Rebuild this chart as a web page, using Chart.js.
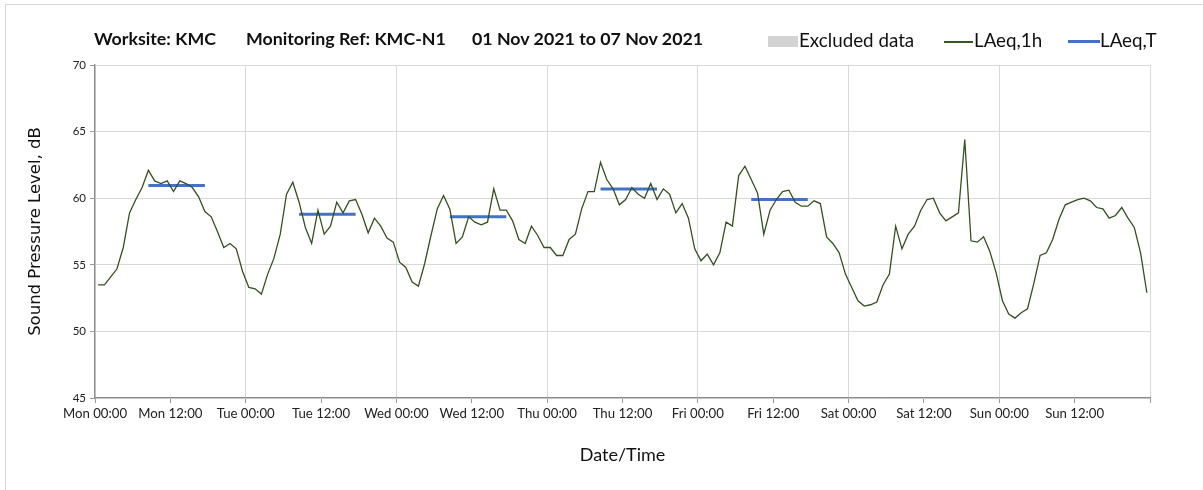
<!DOCTYPE html>
<html>
<head>
<meta charset="utf-8">
<script src="https://cdn.jsdelivr.net/npm/chart.js@4.4.0/dist/chart.umd.min.js"></script>
<style>
  body{margin:0;background:#fff;}
  #wrap{position:relative;width:1203px;height:490px;overflow:hidden;font-family:Lato,"Open Sans",sans-serif;}
  #frame{position:absolute;left:5px;top:4px;width:1300px;height:600px;border:1px solid #d9d9d9;}
  canvas{position:absolute;left:0;top:0;}
  .t{position:absolute;top:27px;font-weight:bold;font-size:17.8px;color:#111;white-space:pre;}
  .lg{position:absolute;top:28px;font-size:18.8px;color:#111;white-space:pre;}
  .sw{position:absolute;}
</style>
</head>
<body>
<div id="wrap">
  <div id="frame"></div>
  <canvas id="myChart" width="1203" height="490"></canvas>
  <div class="t" style="left:94px">Worksite: KMC</div>
  <div class="t" style="left:246px">Monitoring Ref: KMC-N1</div>
  <div class="t" style="left:472px">01 Nov 2021 to 07 Nov 2021</div>
  <div class="sw" style="left:768px;top:36px;width:30px;height:11px;background:#d3d3d3"></div>
  <div class="lg" style="left:799px">Excluded data</div>
  <div class="sw" style="left:944px;top:41px;width:29px;height:1.5px;background:#375623"></div>
  <div class="lg" style="left:974px">LAeq,1h</div>
  <div class="sw" style="left:1068px;top:40px;width:32px;height:3px;background:#4472C4"></div>
  <div class="lg" style="left:1100px">LAeq,T</div>
</div>
<script>
// hourly LAeq,1h, Mon 00:00 .. Sun 23:00
const laeq1h = [
  53.5,53.5,54.1,54.7,56.3,58.9,59.9,60.8,62.1,61.3,61.1,61.3,60.5,61.3,61.1,60.8,60.1,59.0,58.6,57.5,56.3,56.6,56.2,54.5,
  53.3,53.2,52.8,54.3,55.5,57.3,60.3,61.2,59.7,57.8,56.6,59.1,57.3,57.9,59.7,58.9,59.8,59.9,58.8,57.4,58.5,57.9,57.0,56.7,
  55.2,54.8,53.7,53.4,55.1,57.2,59.2,60.2,59.2,56.6,57.1,58.6,58.2,58.0,58.2,60.7,59.1,59.1,58.3,56.9,56.6,57.9,57.2,56.3,
  56.3,55.7,55.7,56.9,57.3,59.2,60.5,60.5,62.7,61.4,60.7,59.5,59.9,60.8,60.3,60.0,61.1,59.9,60.7,60.3,58.9,59.6,58.5,56.2,
  55.3,55.8,55.0,55.9,58.2,57.9,61.7,62.4,61.4,60.4,57.3,59.1,59.9,60.5,60.6,59.7,59.4,59.4,59.8,59.6,57.1,56.6,55.9,54.3,
  53.3,52.3,51.9,52.0,52.2,53.5,54.3,57.9,56.2,57.3,57.9,59.1,59.9,60.0,58.9,58.3,58.6,58.9,64.4,56.8,56.7,57.1,56.0,54.4,
  52.3,51.3,51.0,51.4,51.7,53.6,55.7,55.9,56.9,58.4,59.5,59.7,59.9,60.0,59.8,59.3,59.2,58.5,58.7,59.3,58.5,57.8,55.9,52.9
];
// daytime LAeq,T per day (Mon..Fri)
const laeqT = [60.95, 58.8, 58.6, 60.7, 59.9];
const periodStart = 8;   // hour index
const periodEnd = 17;
const dayNames = ['Mon','Tue','Wed','Thu','Fri','Sat','Sun'];

const hourly = laeq1h.map((v,i)=>({x:i+0.5,y:v}));
const period = [];
laeqT.forEach((v,d)=>{
  period.push({x:d*24+periodStart+0.5,y:v});
  period.push({x:d*24+periodEnd+0.5,y:v});
  period.push({x:d*24+periodEnd+1,y:null});
});

const ctx = document.getElementById('myChart').getContext('2d');
new Chart(ctx,{
  type:'line',
  data:{
    datasets:[
      {label:'LAeq,1h',data:hourly,borderColor:'#33521f',borderWidth:1.3,pointRadius:0,tension:0},
      {label:'LAeq,T',data:period,borderColor:'#4472C4',borderWidth:3,pointRadius:0,spanGaps:false}
    ]
  },
  options:{
    responsive:false,
    animation:false,
    layout:{padding:{top:65,right:53,left:0,bottom:0}},
    plugins:{legend:{display:false},tooltip:{enabled:false}},
    scales:{
      x:{
        type:'linear',min:0,max:168,
        afterFit(s){s.height=92;},
        grid:{
          color:c=>(c.tick && c.tick.value%24===0)?'#d9d9d9':'rgba(0,0,0,0)',
          tickColor:'#999',tickLength:5,drawTicks:true
        },
        border:{color:'#8c8c8c',width:1.3},
        ticks:{
          stepSize:12,maxRotation:0,autoSkip:false,padding:3,color:'#222',
          font:{family:'Lato',size:13.2},
          callback:v=>{
            if(v>=168) return '';
            const d=Math.floor(v/24), h=v%24;
            return dayNames[d]+' '+String(h).padStart(2,'0')+':00';
          }
        },
        title:{display:true,text:'Date/Time',color:'#111',font:{family:'Lato',size:18},padding:{top:0,bottom:24}}
      },
      y:{
        min:45,max:70,
        afterFit(s){s.width=95;},
        grid:{color:'#d9d9d9',tickColor:'#999',tickLength:5},
        border:{color:'#8c8c8c',width:1.3},
        ticks:{stepSize:5,color:'#222',padding:4,font:{family:'Lato',size:11.5}},
        title:{display:true,text:'Sound Pressure Level, dB',color:'#111',font:{family:'DejaVu Sans',size:16.5},padding:{top:26,bottom:0}}
      }
    }
  }
});
</script>
</body>
</html>
